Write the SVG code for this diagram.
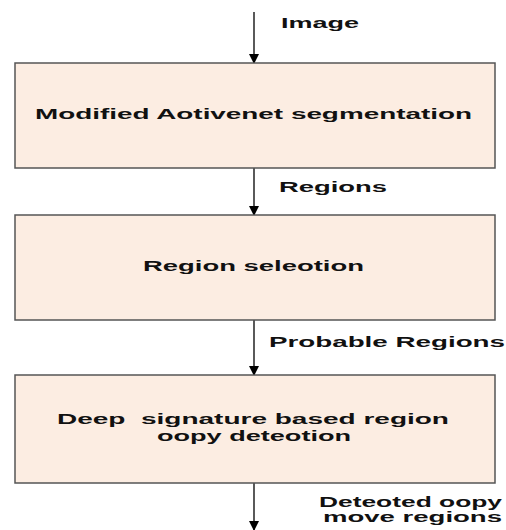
<svg xmlns="http://www.w3.org/2000/svg" width="506" height="530" viewBox="0 0 506 530">
<style>
.box{fill:#fcede2;stroke:#555;stroke-width:1.5}
.lbl{font-family:"Liberation Sans",Arial,sans-serif;font-weight:bold;font-size:14px;fill:#111}
.edge{stroke:#000;stroke-width:1.3;fill:none;marker-end:url(#ah)}
</style>
<defs>
<marker id="ah" markerWidth="10" markerHeight="10" refX="9" refY="5" orient="auto" markerUnits="userSpaceOnUse">
<path d="M0,0 L10,5 L0,10 Z" fill="#000"/>
</marker>
</defs>
<rect width="506" height="530" fill="#fff"/>
<g id="connectors">
<line class="edge" x1="254" y1="12" x2="254" y2="63"/>
<line class="edge" x1="254" y1="168" x2="254" y2="215"/>
<line class="edge" x1="254" y1="320" x2="254" y2="375"/>
<line class="edge" x1="254" y1="483" x2="254" y2="530"/>
<text class="lbl" x="281" y="28" textLength="78" lengthAdjust="spacingAndGlyphs">Image</text>
<text class="lbl" x="279" y="192" textLength="108" lengthAdjust="spacingAndGlyphs">Regions</text>
<text class="lbl" x="269" y="347" textLength="236" lengthAdjust="spacingAndGlyphs">Probable Regions</text>
<text class="lbl" x="319" y="507" textLength="183" lengthAdjust="spacingAndGlyphs">Deteoted oopy</text>
<text class="lbl" x="323" y="522" textLength="179" lengthAdjust="spacingAndGlyphs">move regions</text>
</g>
<g id="node1">
<rect class="box" x="15" y="63" width="480" height="105"/>
<text class="lbl" x="35" y="119" font-size="15" textLength="437" lengthAdjust="spacingAndGlyphs">Modified Aotivenet segmentation</text>
</g>
<g id="node2">
<rect class="box" x="15" y="215" width="480" height="105"/>
<text class="lbl" x="143" y="271" textLength="221" lengthAdjust="spacingAndGlyphs">Region seleotion</text>
</g>
<g id="node3">
<rect class="box" x="15" y="375" width="480" height="108"/>
<text class="lbl" x="57" y="424" textLength="392" lengthAdjust="spacingAndGlyphs" xml:space="preserve">Deep  signature based region</text>
<text class="lbl" x="157" y="441" textLength="194" lengthAdjust="spacingAndGlyphs">oopy deteotion</text>
</g>
</svg>
